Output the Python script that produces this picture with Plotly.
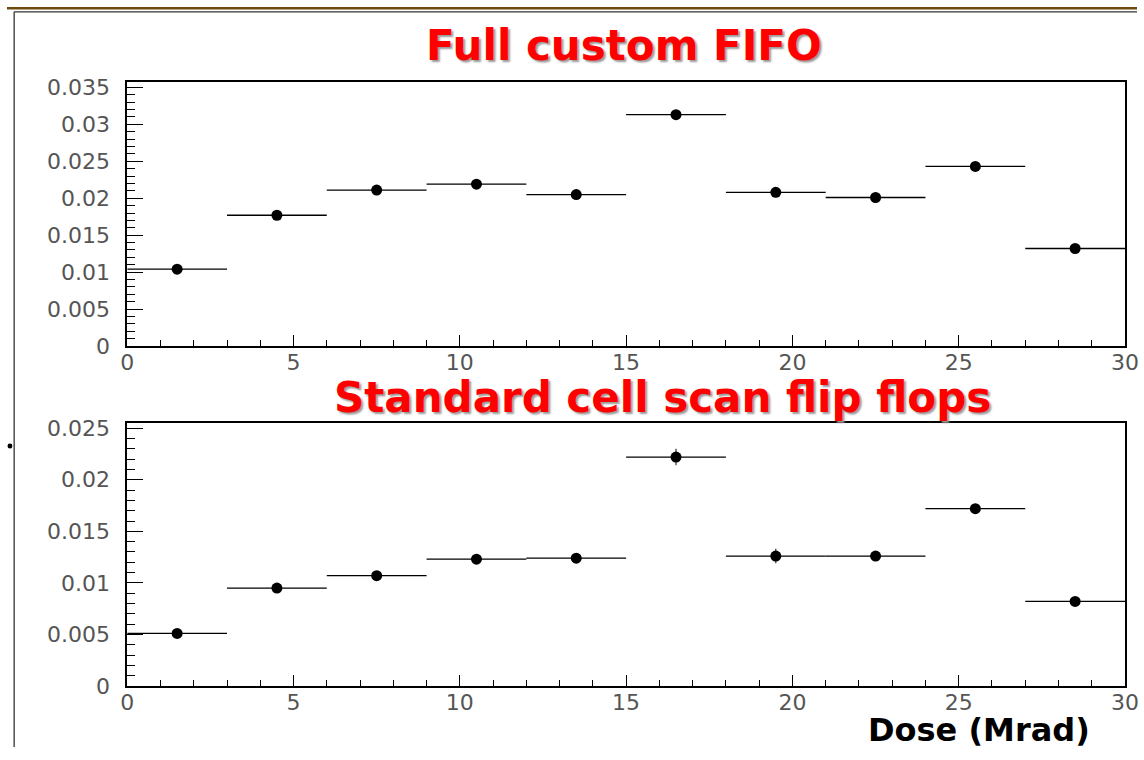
import plotly.graph_objects as go

# Data
dose_centers = [1.5, 4.5, 7.5, 10.5, 13.5, 16.5, 19.5, 22.5, 25.5, 28.5]
bin_halfwidth = [1.5] * 10
fifo_vals = [0.0104, 0.0177, 0.0211, 0.0219, 0.0205, 0.0313, 0.0208, 0.0201, 0.0243, 0.0132]
fifo_err = [0.0003, 0.0003, 0.0003, 0.0003, 0.0003, 0.0003, 0.0003, 0.0003, 0.0003, 0.0003]
scan_vals = [0.0051, 0.0095, 0.0107, 0.0123, 0.0124, 0.0222, 0.0126, 0.0126, 0.0172, 0.0082]
scan_err = [0.0003, 0.0003, 0.0003, 0.0003, 0.0003, 0.0008, 0.0007, 0.0003, 0.0004, 0.0003]

x_tickvals = [0, 5, 10, 15, 20, 25, 30]
x_ticktext = ["0", "5", "10", "15", "20", "25", "30"]
y1_tickvals = [0, 0.005, 0.01, 0.015, 0.02, 0.025, 0.03, 0.035]
y1_ticktext = ["0", "0.005", "0.01", "0.015", "0.02", "0.025", "0.03", "0.035"]
y2_tickvals = [0, 0.005, 0.01, 0.015, 0.02, 0.025]
y2_ticktext = ["0", "0.005", "0.01", "0.015", "0.02", "0.025"]

# layout helpers: map target picture pixels to figure paper coordinates
OFF = 8
SX, SY = 0.981, 0.974
W, H = 1151, 760

def fx(xr):
    return xr / SX - OFF

def fy(yr):
    return yr / SY - OFF

def px(xr):
    return fx(xr) / W

def py(yr):
    return 1 - fy(yr) / H

fig = go.Figure()

def add_series(xs, ys, ye, xa, ya):
    fig.add_trace(go.Scatter(
        x=xs, y=ys, mode="markers", xaxis=xa, yaxis=ya,
        marker=dict(color="black", size=11, symbol="circle"),
        error_x=dict(type="data", array=bin_halfwidth, width=0, thickness=1.3, color="black"),
        error_y=dict(type="data", array=ye, width=0, thickness=1.2, color="#333"),
        showlegend=False, hoverinfo="x+y"))

add_series(dose_centers, fifo_vals, fifo_err, "x", "y")
add_series(dose_centers, scan_vals, scan_err, "x2", "y2")

tickfont = dict(family="DejaVu Sans", size=22, color="#555")
xdom = [px(128), px(1125)]

def xaxis_cfg(anchor):
    return dict(domain=xdom, range=[0, 30], anchor=anchor,
                showline=True, linecolor="black", linewidth=1.5, mirror=True,
                ticks="inside", ticklen=11, tickwidth=1.3, tickcolor="black",
                tickvals=x_tickvals, ticktext=x_ticktext, ticklabeloverflow="allow",
                ticklabelstandoff=-4,
                minor=dict(dtick=1, tick0=0, ticks="inside", ticklen=6, tickwidth=1.2, tickcolor="black"),
                showgrid=False, zeroline=False, tickfont=tickfont, fixedrange=True)

def yaxis_cfg(anchor, dom, rng, tv, tt):
    return dict(domain=dom, range=rng, anchor=anchor,
                showline=True, linecolor="black", linewidth=1.5, mirror=True,
                ticks="inside", ticklen=16, tickwidth=1.3, tickcolor="black",
                tickvals=tv, ticktext=tt,
                minor=dict(dtick=0.001, tick0=0, ticks="inside", ticklen=8, tickwidth=1.2, tickcolor="black"),
                showgrid=False, zeroline=False, tickfont=tickfont, ticklabelstandoff=11,
                fixedrange=True)

fig.update_layout(
    width=W, height=H, autosize=False,
    margin=dict(l=0, r=0, t=0, b=0),
    paper_bgcolor="white", plot_bgcolor="white",
    xaxis=xaxis_cfg("y"),
    yaxis=yaxis_cfg("x", [py(347), py(83)], [0, 0.0357], y1_tickvals, y1_ticktext),
    xaxis2=xaxis_cfg("y2"),
    yaxis2=yaxis_cfg("x2", [py(687), py(424)], [0, 0.0255], y2_tickvals, y2_ticktext),
)

title_font = dict(family="DejaVu Sans", size=42, color="#ff0000", weight="bold",
                  shadow="2px 2px 2px #999")
fig.add_annotation(text="Full custom FIFO", x=px(624), y=py(46), xref="paper", yref="paper",
                   showarrow=False, font=title_font, xanchor="center", yanchor="middle")
fig.add_annotation(text="Standard cell scan flip flops", x=px(663), y=py(398), xref="paper", yref="paper",
                   showarrow=False, font=title_font, xanchor="center", yanchor="middle")
fig.add_annotation(text="Dose (Mrad)", x=px(979), y=py(731), xref="paper", yref="paper",
                   showarrow=False, font=dict(family="DejaVu Sans", size=32, color="black", weight="bold"),
                   xanchor="center", yanchor="middle")

# decorations: brown top band, outer frame, bullet
fig.add_shape(type="rect", xref="paper", yref="paper", x0=0, x1=1, y0=1 - 2.5 / H, y1=1,
              fillcolor="#6e4a0e", line=dict(width=0), layer="above")
fig.add_shape(type="line", xref="paper", yref="paper", x0=px(15), x1=px(15), y0=0, y1=1 - 5 / H,
              line=dict(color="#333", width=1.3))
fig.add_shape(type="line", xref="paper", yref="paper", x0=px(15), x1=1, y0=1 - 5 / H, y1=1 - 5 / H,
              line=dict(color="#333", width=1.3))
fig.add_shape(type="circle", xref="paper", yref="paper", x0=0.5 / W, x1=5.5 / W,
              y0=py(449.5), y1=py(444.5), fillcolor="black", line=dict(width=0))

fig.write_html("out.html")
